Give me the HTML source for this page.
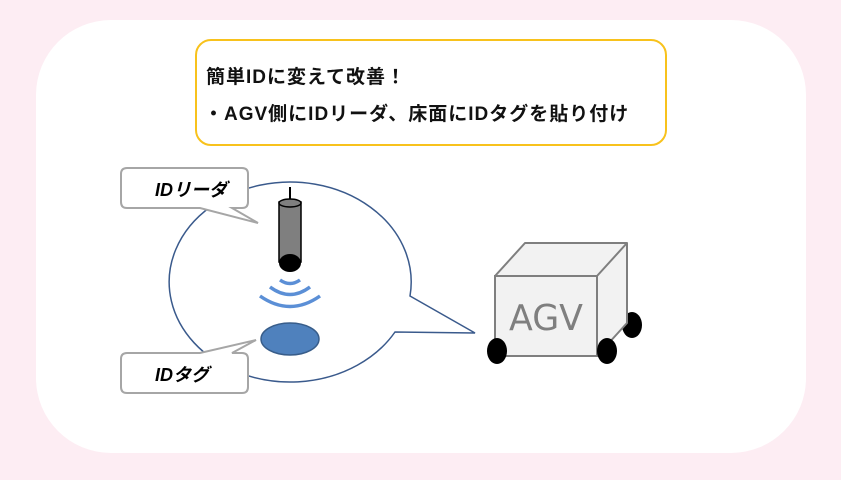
<!DOCTYPE html>
<html><head><meta charset="utf-8"><style>
html,body{margin:0;padding:0;background:#fdedf3;}
svg{display:block}
text{font-family:"Liberation Sans","Noto Sans CJK JP",sans-serif;}
</style></head><body>
<svg width="841" height="480" viewBox="0 0 841 480" xmlns="http://www.w3.org/2000/svg">
<rect x="0" y="0" width="841" height="480" fill="#fdedf3"/>
<rect x="36" y="20" width="770" height="433" rx="75" fill="#ffffff"/>
<rect x="196" y="40" width="470" height="105" rx="15" fill="#fff" stroke="#f8c21c" stroke-width="2"/>
<text x="206" y="83" font-size="19" font-weight="bold" letter-spacing="1" fill="#111">簡単IDに変えて改善！</text>
<text x="204" y="120" font-size="19" font-weight="bold" letter-spacing="1" fill="#111">・AGV側にIDリーダ、床面にIDタグを貼り付け</text>
<path d="M410,296 A121,100 0 1 0 395,332 L475,333 Z" fill="#fff" stroke="#3a5a8c" stroke-width="1.5"/>
<line x1="290" y1="187" x2="290" y2="202" stroke="#000" stroke-width="2"/>
<rect x="279" y="202" width="22" height="60" fill="#7f7f7f" stroke="#000" stroke-width="1.5"/>
<ellipse cx="290" cy="203" rx="11" ry="4" fill="#7f7f7f" stroke="#000" stroke-width="1.5"/>
<ellipse cx="290" cy="263" rx="11" ry="9" fill="#000"/>
<g fill="none" stroke="#5b8fd6" stroke-width="3.5">
<path d="M280,280 Q290,287 300,280"/>
<path d="M270,287 Q290,302 310,287"/>
<path d="M260,296 Q290,317 320,296"/>
</g>
<ellipse cx="290" cy="339" rx="29" ry="16" fill="#4f81bd" stroke="#385d8a" stroke-width="1.5"/>
<path d="M127,168 H242 Q248,168 248,174 V202 Q248,208 242,208 H232 L258,223 L200,208 H127 Q121,208 121,202 V174 Q121,168 127,168 Z" fill="#fff" stroke="#a6a6a6" stroke-width="2"/>
<text x="155" y="196" font-size="18" font-weight="bold" font-style="italic" fill="#000">IDリーダ</text>
<path d="M127,353 H200 L256,340 L232,353 H242 Q248,353 248,359 V387 Q248,393 242,393 H127 Q121,393 121,387 V359 Q121,353 127,353 Z" fill="#fff" stroke="#a6a6a6" stroke-width="2"/>
<text x="155" y="381" font-size="18" font-weight="bold" font-style="italic" fill="#000">IDタグ</text>
<ellipse cx="632" cy="325" rx="10" ry="13" fill="#000"/>
<polygon points="495,276 525,243 627,243 627,323 597,356 597,276" fill="#f2f2f2" stroke="#7f7f7f" stroke-width="2" stroke-linejoin="round"/>
<line x1="597" y1="276" x2="627" y2="243" stroke="#7f7f7f" stroke-width="2"/>
<rect x="495" y="276" width="102" height="80" fill="#f2f2f2" stroke="#7f7f7f" stroke-width="2"/>
<ellipse cx="497" cy="351" rx="10" ry="13" fill="#000"/>
<ellipse cx="607" cy="351" rx="10" ry="13" fill="#000"/>
<text x="546" y="330" font-size="36" fill="#7f7f7f" text-anchor="middle" style="font-family:'DejaVu Sans',sans-serif" textLength="74" lengthAdjust="spacingAndGlyphs">AGV</text>
</svg>
</body></html>
